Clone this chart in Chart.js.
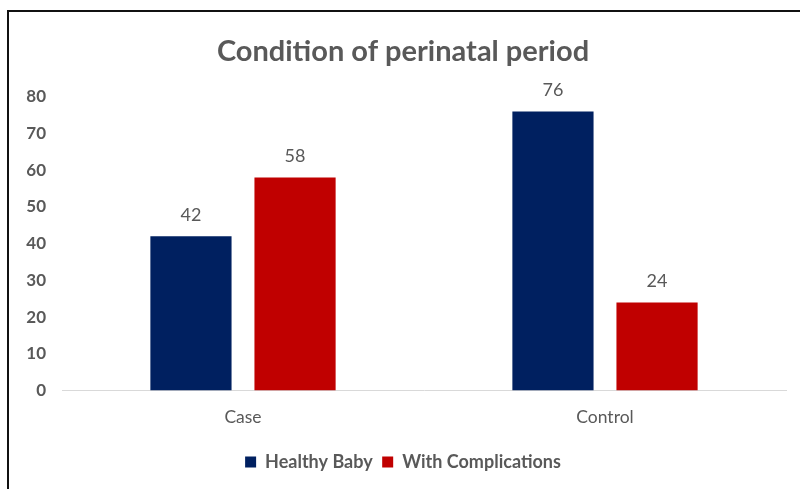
<!DOCTYPE html>
<html>
<head>
<meta charset="utf-8">
<script src="https://cdn.jsdelivr.net/npm/chart.js@4/dist/chart.umd.min.js"></script>
<style>
  html, body { margin: 0; padding: 0; background: #fff; }
  #wrap { position: relative; width: 800px; height: 489px; }
  #frame { position: absolute; left: 7px; top: 10px; width: 800px; height: 490px;
           border-left: 2px solid #111; border-top: 2px solid #111; pointer-events: none; }
</style>
</head>
<body>
<div id="wrap">
  <canvas id="c" width="800" height="489"></canvas>
  <div id="frame"></div>
</div>
<script>
const categories = ['Case', 'Control']
const healthyBaby = [42, 76]
const withComplications = [58, 24]
const seriesNames = ['Healthy Baby', 'With Complications']

const FONT = 'Lato, "Open Sans", sans-serif'

// values on top of the bars
const barLabels = {
  id: 'barLabels',
  afterDatasetsDraw(chart) {
    const ctx = chart.ctx
    ctx.save()
    ctx.font = '18px ' + FONT
    ctx.fillStyle = '#595959'
    ctx.textAlign = 'center'
    ctx.textBaseline = 'middle'
    chart.data.datasets.forEach((ds, i) => {
      chart.getDatasetMeta(i).data.forEach((bar, j) => {
        ctx.fillText(ds.data[j], bar.x, bar.y - 21)
      })
    })
    ctx.restore()
  }
}

new Chart(document.getElementById('c'), {
  type: 'bar',
  data: {
    labels: categories,
    datasets: [
      { label: seriesNames[0], data: healthyBaby, backgroundColor: '#002060',
        categoryPercentage: 0.575, barPercentage: 0.78 },
      { label: seriesNames[1], data: withComplications, backgroundColor: '#C00000',
        categoryPercentage: 0.575, barPercentage: 0.78 }
    ]
  },
  options: {
    responsive: false,
    animation: false,
    layout: { padding: { left: 20, right: 14, top: 34, bottom: 8 } },
    plugins: {
      title: {
        display: true,
        text: 'Condition of perinatal period',
        color: '#595959',
        font: { family: FONT, size: 29, weight: 'bold' },
        padding: { top: 0, bottom: 28 }
      },
      legend: {
        position: 'bottom',
        labels: {
          color: '#595959',
          font: { family: FONT, size: 18, weight: 'bold' },
          boxWidth: 11, boxHeight: 11, padding: 9.5
        }
      },
      tooltip: { enabled: false }
    },
    scales: {
      x: {
        grid: { display: false, drawTicks: false },
        border: { color: '#d9d9d9', width: 1 },
        ticks: { color: '#595959', font: { family: FONT, size: 17.5 }, padding: 16 }
      },
      y: {
        min: 0, max: 80,
        grid: { display: false, drawTicks: false },
        border: { display: false },
        ticks: { stepSize: 10, color: '#595959', font: { family: FONT, size: 17, weight: 'bold' }, padding: 16 },
        afterFit(scale) { scale.width = 42 }
      }
    }
  },
  plugins: [barLabels]
})
</script>
</body>
</html>
